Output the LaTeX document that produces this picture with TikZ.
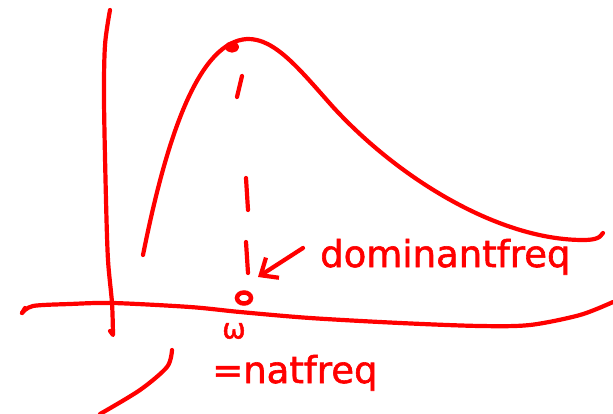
\documentclass[tikz,border=0pt]{standalone}
\usepackage{fontspec}
\setmainfont{DejaVu Sans}
\newfontfamily\hand{DejaVu Sans}[FakeBold=1.6]
\usetikzlibrary{arrows.meta,positioning,calc,shapes.geometric}
\definecolor{pen}{HTML}{FF0000}
\definecolor{paper}{HTML}{FFFFFF}

\begin{document}
\begin{tikzpicture}[
    x=1pt,y=-1pt,
    ink/.style={draw=pen,line width=4.2pt,line cap=round,line join=round},
    scrawl/.style={text=pen,inner sep=0pt,anchor=base west}
  ]
  \fill[paper] (0,0) rectangle (613,414);
  \useasboundingbox (0,0) rectangle (613,414);

  % axes
  \draw[ink] plot[smooth] coordinates {(110,10) (105,45) (104,100) (106,200) (108,260) (112,303) (113,335)} -- (110,331);
  \draw[ink] (25,308) -- (22,313);
  \draw[ink] plot[smooth] coordinates {(22,313) (33,306) (70,304) (113,303) (190,307) (240,312) (310,318) (400,323) (480,326) (530,325) (580,315) (613,302)};

  % response curve
  \draw[ink] (143,255) .. controls (168,130) and (200,42) .. (247,39)
    .. controls (275,38) and (300,70) .. (333,107)
    .. controls (400,180) and (500,240) .. (583,240)
    .. controls (592,240) and (600,239) .. (603,233);
  \draw[ink,fill=pen] (232,47) ellipse[x radius=5pt,y radius=3.5pt];

  % drop line from the peak
  \draw[ink] (242,76) -- (237,97);
  \draw[ink] (246,178) -- (248,210);
  \draw[ink] (246,242) -- (248,273);
  \node[
    draw=pen,
    line width=4.5pt,
    ellipse,
    minimum width=14pt,
    minimum height=11pt,
    inner sep=0pt
  ] (wres) at (244,298) {};

  % labels
  \node[
    scrawl,
    font=\hand\fontsize{37}{37}\selectfont
  ] (dom) at (320,267) {dominantfreq};
  \coordinate (tail) at (303,248);
  \coordinate (tip) at (258,277);
  \draw[ink,-{Straight Barb[length=14pt,width=24pt,line width=4.2pt]}] (tail) -- (tip);

  \node[
    text=pen,
    font=\hand\fontsize{28}{28}\selectfont
  ] (omega) at (234,331) {ω};
  \node[
    scrawl,
    font=\hand\fontsize{37}{37}\selectfont
  ] (nat) at (212,383) {=natfreq};

  \draw[ink] plot[smooth] coordinates {(172,350) (167,367) (140,390) (100,414)};
\end{tikzpicture}
\end{document}
